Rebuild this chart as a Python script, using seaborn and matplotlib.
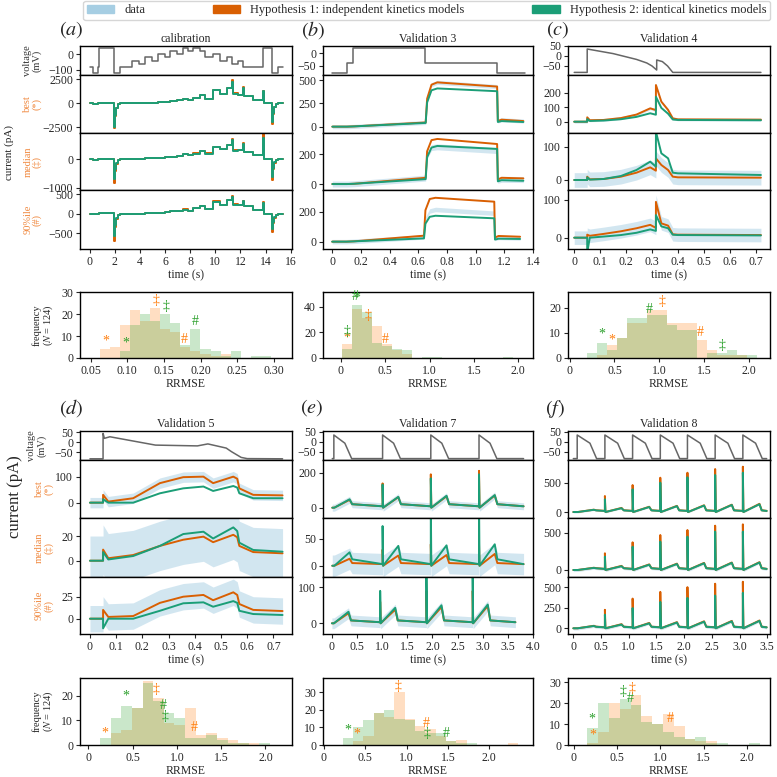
import numpy as np
import pandas as pd
import matplotlib
matplotlib.use('Agg')
import matplotlib.pyplot as plt
import seaborn as sns
from matplotlib.patches import Patch
from matplotlib.ticker import FuncFormatter

sns.set_style('ticks')
plt.rcParams['font.family'] = ['Liberation Serif', 'DejaVu Serif']
plt.rcParams['mathtext.fontset'] = 'stix'
plt.rcParams['font.size'] = 8.5

C_DATA = '#a6cee3'
C_H1 = '#d95f02'
C_H2 = '#1b9e77'
C_LAB = '#f0883e'
C_HIST1 = '#ff7f0e'
C_HIST2 = '#2ca02c'
C_VOLT = '#666666'

# ---------------- (a) calibration: staircase (step-post values)
a_t = [0.00, 0.25, 0.70, 0.75, 1.94, 2.00, 2.10, 2.25, 2.39, 3.38, 3.93, 4.44, 4.92, 5.45, 6.03, 6.43,
       6.91, 7.39, 7.84, 8.24, 8.77, 9.17, 9.83, 10.37, 10.90, 11.35, 11.42, 11.83, 12.23, 12.30, 13.00,
       13.82, 13.90, 14.49, 14.55, 14.65, 14.80, 15.02, 15.42]
a_v = [-80, -120, -80, 40, -120, -120, -120, -120, -80, -40, -60, -20, -40, 0, -20, 20, 0, 40, 20, 40,
       20, -20, 0, -40, -20, -60, -60, -40, -80, -80, -80, 40, 40, -120, -120, -120, -120, -80, -80]
a_best_h1 = [0, -80, 0, 30, -2600, -1300, -500, -120, 0, 20, 15, 50, 60, 100, 180, 250, 350, 500, 350, 600,
             870, 450, 1390, 1000, 1600, 2400, 1040, 870, 1670, 760, 400, 1300, 0, -2200, -1100, -400, -100, 0, 0]
a_best_h2 = [0, -80, 0, 30, -2500, -1200, -450, -110, 0, 20, 15, 50, 60, 100, 170, 240, 330, 470, 340, 570,
             820, 430, 1350, 980, 1550, 2250, 1000, 850, 1600, 740, 390, 1250, 0, -2000, -1000, -380, -100, 0, 0]
a_med_h1 = [0, -30, 0, 10, -850, -420, -160, -40, 0, 10, 5, 20, 20, 40, 60, 80, 120, 170, 130, 200,
            280, 200, 430, 350, 500, 700, 300, 320, 545, 260, 140, 1000, 0, -730, -350, -130, -30, 0, 0]
a_med_h2 = [0, -30, 0, 10, -700, -350, -140, -35, 0, 10, 5, 20, 20, 40, 55, 75, 115, 160, 125, 190,
            265, 190, 410, 335, 480, 660, 290, 305, 520, 250, 135, 720, 0, -620, -300, -120, -30, 0, 0]
a_p90_h1 = [0, -20, 0, 10, -700, -330, -130, -30, 0, 5, 5, 15, 15, 30, 40, 60, 70, 110, 80, 140,
            200, 110, 320, 230, 360, 460, 240, 220, 330, 200, 100, 290, 0, -480, -250, -100, -30, 0, 0]
a_p90_h2 = [0, -20, 0, 10, -580, -280, -110, -25, 0, 5, 5, 15, 15, 30, 40, 58, 68, 105, 78, 135,
            195, 108, 310, 225, 350, 440, 235, 215, 320, 195, 98, 270, 0, -400, -210, -90, -25, 0, 0]

# ---------------- (b) validation 3
b_tv = [0.0, 0.10, 0.144, 0.636, 1.128, 1.32]
b_v = [-80, -40, 20, -40, -80, -80]
b_t = [0.0, 0.10, 0.15, 0.64, 0.65, 0.68, 0.72, 1.13, 1.135, 1.16, 1.31]
b_best_h1 = [0, 0, 3, 45, 300, 450, 475, 430, 60, 75, 60]
b_best_h2 = [0, 0, 3, 40, 260, 390, 410, 380, 50, 60, 50]
b_med_h1 = [0, 0, 2, 42, 220, 295, 303, 269, 30, 42, 38]
b_med_h2 = [0, 0, 2, 33, 180, 245, 256, 236, 18, 26, 22]
b_med_data = [0, 0, 2, 40, 190, 245, 250, 225, 25, 32, 30]
b_p90_h1 = [0, 0, 2, 40, 210, 285, 293, 267, 28, 38, 33]
b_p90_h2 = [0, 0, 2, 22, 120, 166, 173, 156, 14, 20, 18]
b_p90_data = [0, 0, 2, 32, 150, 205, 215, 190, 22, 28, 25]

# ---------------- (c) validation 4
c_tv = [0.0, 0.05, 0.0501, 0.15, 0.24, 0.28, 0.30, 0.318, 0.3181, 0.34, 0.36, 0.38, 0.72]
c_v = [-82, -82, 35, 12, -17, -35, -50, -70, -20, -28, -50, -82, -82]
c_t = [0.0, 0.05, 0.0501, 0.06, 0.113, 0.18, 0.24, 0.293, 0.315, 0.3151, 0.336, 0.362, 0.38, 0.40, 0.72]
c_best_h1 = [0, 0, 30, 10, 12, 25, 49, 92, 80, 253, 138, 81, 23, 16, 14]
c_best_h2 = [0, 0, 18, 5, 8, 17, 33, 58, 48, 172, 95, 55, 15, 12, 10]
c_med_h1 = [0, 0, 10, 2, 3, 10, 22, 38, 28, 65, 45, 30, 10, 8, 7]
c_med_h2 = [0, 0, 8, 1, 3, 12, 30, 55, 40, 145, 80, 65, 22, 20, 15]
c_p90_h1 = [0, 0, 8, 5, 10, 17, 25, 34, 26, 95, 38, 32, 9, 8, 7]
c_p90_h2 = [0, 0, -40, 0, 3, 7, 13, 22, 18, 60, 30, 25, 8, 7, 6]

# ---------------- (d) validation 5
d_tv = [0.0, 0.05, 0.0501, 0.055, 0.076, 0.25, 0.41, 0.45, 0.52, 0.54, 0.577, 0.60, 0.735]
d_v = [-83, -83, 45, 20, 28, -14, -18, -8, -29, -47, -76, -82, -83]
d_t = [0.0, 0.05, 0.0501, 0.07, 0.165, 0.267, 0.356, 0.433, 0.47, 0.547, 0.562, 0.57, 0.623, 0.735]
d_best_h1 = [0, 0, 30, 4, 17, 75, 98, 100, 75, 100, 92, 55, 30, 28]
d_best_h2 = [0, 0, 13, 0, 0, 36, 55, 62, 45, 64, 58, 36, 17, 17]
d_med_h1 = [0, 0, 9, 2, 4.6, 12, 17, 19.5, 15, 21, 19, 12, 7, 6]
d_med_h2 = [0, 0, 7, 1, 3.8, 12, 21.6, 23.5, 18, 27, 24, 14.6, 8.7, 7.3]
d_p90_h1 = [0, 0, 10, 2, 3, 18, 25, 27, 21, 30, 27, 16.7, 10, 8.7]
d_p90_h2 = [0, 0, -11, 0, 0, 9, 17.5, 18.6, 13.6, 20, 18, 9, 5.3, 4.2]

# ---------------- (e) validation 7: action-potential train
e_onsets = [0.03, 0.96, 1.88, 2.80]
e_end = 3.65
e_ap = dict(hold=-85, peak=33, shoulder=-8, shoulder_dt=0.21, end_dt=0.34)
e_best_spk_h1, e_best_spk_h2 = [0, 139, 191, 211], [0, 132, 168, 191]
e_best_bump_h1, e_best_bump_h2 = [45, 60, 65, 70], [48, 62, 68, 72]
e_best_rest_h1, e_best_rest_h2 = [20, 8], [20, 8]
e_med_spk_h1, e_med_spk_h2 = [0, 30, 40, 40], [0, 74, 120, 120]
e_med_bump_h1, e_med_bump_h2 = [13, 19, 20, 22], [25, 37, 38, 40]
e_med_rest_h1, e_med_rest_h2 = [5, 3], [12, 3]
e_p90_spk_h1, e_p90_spk_h2 = [0, 60, 90, 90], [0, 90, 140, 140]
e_p90_bump_h1, e_p90_bump_h2 = [28, 38, 45, 48], [32, 43, 50, 52]
e_p90_rest_h1, e_p90_rest_h2 = [8, 3], [8, 3]

# ---------------- (f) validation 8
f_onsets = [0.07, 0.57, 1.07, 1.57, 2.06, 2.56, 3.06]
f_end = 3.49
f_ap = dict(hold=-85, peak=33, shoulder=-8, shoulder_dt=0.23, end_dt=0.35)
f_best_spk_h1, f_best_spk_h2 = [0, 273, 460, 585, 670, 733, 773], [0, 217, 387, 500, 592, 631, 670]
f_best_bump_h1, f_best_bump_h2 = [40, 70, 90, 105, 115, 125, 140], [38, 65, 85, 100, 110, 120, 132]
f_best_rest_h1, f_best_rest_h2 = [30, 20], [28, 18]
f_med_spk_h1, f_med_spk_h2 = [0, 224, 371, 469, 536, 594, 612], [0, 178, 312, 380, 446, 514, 514]
f_med_bump_h1, f_med_bump_h2 = [30, 55, 75, 85, 95, 100, 105], [28, 50, 70, 80, 90, 95, 100]
f_med_rest_h1, f_med_rest_h2 = [25, 15], [23, 14]
f_p90_spk_h1, f_p90_spk_h2 = [0, 226, 363, 445, 503, 545, 569], [0, 165, 247, 322, 371, 400, 433]
f_p90_bump_h1, f_p90_bump_h2 = [30, 50, 65, 75, 85, 90, 95], [28, 45, 60, 70, 80, 85, 90]
f_p90_rest_h1, f_p90_rest_h2 = [20, 12], [18, 11]

# data noise half-widths (best, median, 90%ile)
noise = {'a': [60, 25, 20], 'b': [22, 20, 15], 'c': [10, 22, 18],
         'd': [20, 20, 15], 'e': [20, 20, 15], 'f': [15, 20, 20]}

# ---------------- RRMSE histograms: (bin start, bin width), counts
hist_a_bins, hist_a_h1 = (0.0627, 0.0137), [4, 5, 15, 22, 17, 23, 13, 12, 5, 3, 2, 1, 2, 0, 0, 0, 0]
hist_a_h2 = [0, 0, 3, 15, 20, 17, 20, 16, 6, 13, 4, 3, 1, 3, 0, 1, 1]
hist_b_bins, hist_b_h1 = (0.015, 0.113), [11, 38, 31, 25, 11, 6, 3, 0, 0, 0, 0, 0, 0, 0, 0, 0, 0]
hist_b_h2 = [7, 41, 36, 12, 9, 7, 6, 0, 1, 1, 0, 0, 0, 0, 0, 0, 1]
hist_c_bins, hist_c_h1 = (0.19, 0.112), [0, 1, 5, 8, 14, 14, 19, 19, 14, 14, 14, 7, 3, 1, 1, 1, 0]
hist_c_h2 = [2, 6, 3, 8, 16, 16, 17, 17, 13, 11, 11, 0, 2, 2, 3, 1, 1]
hist_d_bins, hist_d_h1 = (0.132, 0.12), [0, 5, 6, 15, 26, 19, 9, 8, 15, 4, 5, 3, 2, 1, 1, 0]
hist_d_h2 = [3, 11, 16, 15, 25, 18, 13, 11, 3, 3, 4, 2, 1, 1, 0, 1]
hist_e_bins, hist_e_h1 = (0.226, 0.125), [0, 2, 5, 18, 16, 30, 15, 11, 9, 5, 2, 3, 0, 0, 0, 0, 1]
hist_e_h2 = [4, 10, 14, 18, 20, 15, 14, 8, 7, 7, 2, 1, 1, 0, 0, 0, 0]
hist_f_bins, hist_f_h1 = (0.159, 0.1245), [1, 6, 20, 17, 24, 14, 10, 15, 9, 3, 2, 2, 0, 0, 0, 0]
hist_f_h2 = [8, 20, 13, 22, 19, 11, 10, 6, 4, 3, 4, 1, 1, 0, 0, 1]

# best / median / 90%ile cell markers on the histograms
marks_a = ([0.070, 0.098, 0.139, 0.153, 0.178, 0.192], [7.8, 6.9, 26.3, 23.4, 8.4, 16.5],
           ['*', '*', '‡', '‡', '#', '#'], [1, 2, 1, 2, 1, 2])
marks_b = ([0.07, 0.158, 0.18, 0.30, 0.07, 0.50], [15.7, 48, 46.5, 33.5, 20.4, 14.4],
           ['*', '#', '*', '‡', '‡', '#'], [1, 2, 2, 1, 2, 1])
marks_c = ([0.36, 0.47, 0.89, 1.03, 1.46, 1.70], [9.7, 7, 19.3, 22.4, 10, 5],
           ['*', '*', '#', '‡', '#', '‡'], [2, 1, 2, 1, 1, 2])
marks_d = ([0.19, 0.425, 0.77, 0.85, 0.87, 1.20], [4.7, 20, 22.4, 16, 11.7, 7],
           ['*', '*', '‡', '#', '‡', '#'], [1, 2, 1, 2, 2, 1])
marks_e = ([0.287, 0.40, 0.90, 1.24, 1.25, 1.48], [8.4, 6.1, 33, 12.3, 6.5, 6.5],
           ['*', '*', '‡', '#', '‡', '#'], [2, 1, 1, 1, 2, 2])
marks_f = ([0.215, 0.22, 0.566, 0.65, 0.67, 1.12], [12.2, 4.7, 25.6, 22, 27, 12.6],
           ['*', '*', '‡', '#', '‡', '#'], [2, 1, 2, 2, 1, 1])


def ap_voltage(onsets, t_end, hold, peak, shoulder, shoulder_dt, end_dt):
    t, v = [0.0], [hold]
    for t0 in onsets:
        t += [t0, t0, t0 + shoulder_dt, t0 + end_dt]
        v += [hold, peak, shoulder, hold]
    return t + [t_end], v + [hold]


def ap_current(onsets, t_end, spikes, bumps, rest, bump_dt, fall_dt):
    t, y, prev = [0.0], [0.0], 0.0
    for t0, s, b in zip(onsets, spikes, bumps):
        t += [t0, t0, t0 + 0.01, t0 + bump_dt, t0 + fall_dt]
        y += [prev, s, 0.0, b, rest[0]]
        prev = rest[1]
    return t + [t_end], y + [prev]


W = H = 777
fig = plt.figure(figsize=(7.77, 7.77), dpi=100)


def add_ax(x0, x1, y0, y1):
    return fig.add_axes([x0 / W, 1 - y1 / H, (x1 - x0) / W, (y1 - y0) / H])


def zero_fmt(dec):
    return FuncFormatter(lambda v, p: '0' if abs(v) < 1e-9 else f'{v:.{dec}f}'.replace('-', '\u2212'))


def style(ax):
    ax.tick_params(labelsize=8.5, length=3, width=0.8, pad=2)
    for s in ax.spines.values():
        s.set_linewidth(1.0)
        s.set_color('black')


def draw_panel(cx, ys, hy, letter, lxy, title, volt, vlim, vticks, traces, nz, xlim, xticks, xdec,
               hist, hxlim, hxticks, hxdec, hylim, hyticks, marks, first=False, step=False,
               vstep=False, big=False):
    x0, x1 = cx
    kw = {'drawstyle': 'steps-post'} if step else {}
    vkw = {'drawstyle': 'steps-post'} if (step or vstep) else {}
    axv = add_ax(x0, x1, *ys[0])
    sns.lineplot(x=volt[0], y=volt[1], ax=axv, color=C_VOLT, lw=1.1, estimator=None, sort=False, **vkw)
    axv.set(xlim=xlim, ylim=vlim, yticks=vticks, xlabel='', ylabel='')
    axv.tick_params(bottom=False, labelbottom=False)
    axv.set_title(title, fontsize=8.5, pad=3)
    style(axv)
    fig.text(lxy[0] / W, 1 - lxy[1] / H, f'$({letter})$', fontsize=14.5, ha='center', va='center')
    if first:
        axv.set_ylabel('voltage\n(mV)', fontsize=7.5, color='#333333', linespacing=1.0)
        axv.yaxis.set_label_coords(-0.18 if not big else -0.16, 0.5)

    labels = ['best\n(*)', 'median\n(‡)', '90%ile\n(#)']
    for i, ((y0, y1), row, n) in enumerate(zip(ys[1:], traces, nz)):
        t, h1, h2, ylim, yt = row[:5]
        centre = np.asarray(row[5] if len(row) > 5 else h1, float)
        ax = add_ax(x0, x1, y0, y1)
        ax.fill_between(t, centre - n, centre + n, color=C_DATA, alpha=0.5, lw=0,
                        step='post' if step else None)
        sns.lineplot(x=t, y=h1, ax=ax, color=C_H1, lw=1.4, estimator=None, sort=False, **kw)
        sns.lineplot(x=t, y=h2, ax=ax, color=C_H2, lw=1.4, estimator=None, sort=False, **kw)
        ax.set(xlim=xlim, ylim=ylim, yticks=yt, xlabel='', ylabel='')
        style(ax)
        if i < 2:
            ax.tick_params(bottom=False, labelbottom=False)
        else:
            ax.set_xticks(xticks)
            ax.xaxis.set_major_formatter(zero_fmt(xdec))
            ax.set_xlabel('time (s)', fontsize=8.5, labelpad=1)
        if first:
            ax.set_ylabel(labels[i], fontsize=7.5, color=C_LAB, linespacing=1.0)
            ax.yaxis.set_label_coords(-0.18 if not big else -0.125, 0.5)

    axh = add_ax(x0, x1, *hy)
    (start, width), c1, c2 = hist
    edges = [start + width * k for k in range(len(c1) + 1)]
    centers = [e + width / 2 for e in edges[:-1]]
    for counts, col in ((c1, C_HIST1), (c2, C_HIST2)):
        df = pd.DataFrame({'rrmse': centers, 'n': np.asarray(counts, float)})
        sns.histplot(data=df, x='rrmse', weights='n', bins=edges, element='step', fill=True,
                     color=col, alpha=0.25, linewidth=0, ax=axh)
    for mx, my, sym, hyp in zip(*marks):
        axh.text(mx, my, sym, ha='center', va='center', fontsize=10,
                 color=C_HIST1 if hyp == 1 else C_HIST2)
    axh.set(xlim=hxlim, ylim=hylim, xticks=hxticks, yticks=hyticks, ylabel='')
    axh.xaxis.set_major_formatter(zero_fmt(hxdec))
    axh.set_xlabel('RRMSE', fontsize=8.5, labelpad=0.5)
    style(axh)
    if first:
        axh.set_ylabel('frequency\n($N$ = 124)', fontsize=7.5, linespacing=1.0)
        axh.yaxis.set_label_coords(-0.118, 0.5)


cols = [(80, 292), (323, 533), (568, 770)]
top_rows = [(46, 75), (75, 133), (133, 190), (190, 249)]
top_hist = (292, 358)
bot_rows = [(431, 460), (460, 518), (518, 577), (577, 634)]
bot_hist = (678, 745)
rr = [0, 0.5, 1.0, 1.5, 2.0]

# (a)
draw_panel(cols[0], top_rows, top_hist, 'a', (71, 30), 'calibration', (a_t, a_v), (-132, 53), [-100, 0],
           [(a_t, a_best_h1, a_best_h2, (-3100, 2960), [-2500, 0, 2500]),
            (a_t, a_med_h1, a_med_h2, (-1080, 906), [-1000, 0]),
            (a_t, a_p90_h1, a_p90_h2, (-904, 607), [-500, 0, 500])],
           noise['a'], (-0.77, 16.1), np.arange(0, 17, 2), 0,
           (hist_a_bins, hist_a_h1, hist_a_h2), (0.0354, 0.3245), [0.05, 0.10, 0.15, 0.20, 0.25, 0.30], 2,
           (0, 30.1), [0, 10, 20, 30], marks_a, first=True, step=True)
# (b)
draw_panel(cols[1], top_rows, top_hist, 'b', (313, 30), 'Validation 3', (b_tv, b_v), (-86, 29), [-50, 0],
           [(b_t, b_best_h1, b_best_h2, (-68, 554), [0, 250, 500]),
            (b_t, b_med_h1, b_med_h2, (-40, 343), [0, 200], b_med_data),
            (b_t, b_p90_h1, b_p90_h2, (-49, 345), [0, 200], b_p90_data)],
           noise['b'], (-0.064, 1.376), np.arange(0, 1.41, 0.2), 1,
           (hist_b_bins, hist_b_h1, hist_b_h2), (-0.203, 2.166), rr, 1,
           (0, 51.5), [0, 20, 40], marks_b, vstep=True)
# (c)
draw_panel(cols[2], top_rows, top_hist, 'c', (558, 30), 'Validation 4', (c_tv, c_v), (-95, 50), [-50, 0, 50],
           [(c_t, c_best_h1, c_best_h2, (-78, 322), [0, 100, 200]),
            (c_t, c_med_h1, c_med_h2, (-30, 141), [0, 100]),
            (c_t, c_p90_h1, c_p90_h2, (-30, 126.5), [0, 100])],
           noise['c'], (-0.024, 0.755), np.arange(0, 0.71, 0.1), 1,
           (hist_c_bins, hist_c_h1, hist_c_h2), (-0.02, 2.24), rr, 1,
           (0, 26.3), [0, 10, 20], marks_c)
# (d)
draw_panel(cols[0], bot_rows, bot_hist, 'd', (71, 408), 'Validation 5', (d_tv, d_v), (-89, 57), [-50, 0, 50],
           [(d_t, d_best_h1, d_best_h2, (-59, 164), [0, 100]),
            (d_t, d_med_h1, d_med_h2, (-13.2, 34.6), [0, 20]),
            (d_t, d_p90_h1, d_p90_h2, (-17.4, 47.4), [0, 25])],
           noise['d'], (-0.038, 0.771), np.arange(0, 0.71, 0.1), 1,
           (hist_d_bins, hist_d_h1, hist_d_h2), (-0.094, 2.3), rr, 1,
           (0, 27.2), [0, 10, 20], marks_d, first=True, big=True)
# (e)
e_bump_dt, e_fall_dt = 0.30, 0.35
e_rows = []
for spk1, spk2, b1, b2, r1, r2, lim, yt in [
        (e_best_spk_h1, e_best_spk_h2, e_best_bump_h1, e_best_bump_h2, e_best_rest_h1, e_best_rest_h2,
         (-59, 273), [0, 200]),
        (e_med_spk_h1, e_med_spk_h2, e_med_bump_h1, e_med_bump_h2, e_med_rest_h1, e_med_rest_h2,
         (-21, 89), [0, 50]),
        (e_p90_spk_h1, e_p90_spk_h2, e_p90_bump_h1, e_p90_bump_h2, e_p90_rest_h1, e_p90_rest_h2,
         (-29.7, 128.6), [0, 100])]:
    t1, y1 = ap_current(e_onsets, e_end, spk1, b1, r1, e_bump_dt, e_fall_dt)
    _, y2 = ap_current(e_onsets, e_end, spk2, b2, r2, e_bump_dt, e_fall_dt)
    e_rows.append((t1, y1, y2, lim, yt))
draw_panel(cols[1], bot_rows, bot_hist, 'e', (312, 408), 'Validation 7',
           ap_voltage(e_onsets, e_end, **e_ap), (-92, 53), [-50, 0, 50], e_rows,
           noise['e'], (-0.177, 3.83), np.arange(0, 4.01, 0.5), 1,
           (hist_e_bins, hist_e_h1, hist_e_h2), (-0.01, 2.53), rr, 1,
           (0, 38), [0, 10, 20, 30], marks_e)
# (f)
f_bump_dt, f_fall_dt = 0.30, 0.34
f_rows = []
for spk1, spk2, b1, b2, r1, r2, lim, yt in [
        (f_best_spk_h1, f_best_spk_h2, f_best_bump_h1, f_best_bump_h2, f_best_rest_h1, f_best_rest_h2,
         (-102, 887), [0, 500]),
        (f_med_spk_h1, f_med_spk_h2, f_med_bump_h1, f_med_bump_h2, f_med_rest_h1, f_med_rest_h2,
         (-94, 697), [0, 500]),
        (f_p90_spk_h1, f_p90_spk_h2, f_p90_bump_h1, f_p90_bump_h2, f_p90_rest_h1, f_p90_rest_h2,
         (-70, 627), [0, 250, 500])]:
    t1, y1 = ap_current(f_onsets, f_end, spk1, b1, r1, f_bump_dt, f_fall_dt)
    _, y2 = ap_current(f_onsets, f_end, spk2, b2, r2, f_bump_dt, f_fall_dt)
    f_rows.append((t1, y1, y2, lim, yt))
draw_panel(cols[2], bot_rows, bot_hist, 'f', (555, 409), 'Validation 8',
           ap_voltage(f_onsets, f_end, **f_ap), (-92, 53), [-50, 0, 50], f_rows,
           noise['f'], (-0.096, 3.55), np.arange(0, 3.51, 0.5), 1,
           (hist_f_bins, hist_f_h1, hist_f_h2), (-0.065, 2.265), rr, 1,
           (0, 32), [0, 10, 20, 30], marks_f)

fig.text(9 / W, 1 - 153 / H, 'current (pA)', rotation=90, ha='center', va='center', fontsize=8)
fig.text(15 / W, 1 - 497 / H, 'current (pA)', rotation=90, ha='center', va='center', fontsize=12)

handles = [Patch(color=C_DATA), Patch(color=C_H1), Patch(color=C_H2)]
fig.legend(handles, ['data', 'Hypothesis 1: independent kinetics models',
                     'Hypothesis 2: identical kinetics models'],
           loc='upper left', bbox_to_anchor=(83 / W, 1 - 0.5 / H, 687 / W, 0), mode='expand', ncol=3,
           fontsize=9, frameon=True, borderaxespad=0, handlelength=2.2, edgecolor='#cccccc',
           borderpad=0.3)

fig.savefig('out.png', dpi=100)
